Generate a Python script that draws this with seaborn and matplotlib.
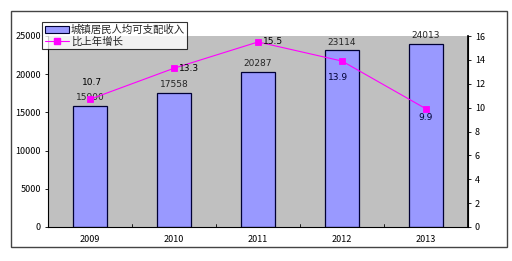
import matplotlib
matplotlib.use("Agg")
import matplotlib.pyplot as plt
import seaborn as sns
import pandas as pd
from matplotlib.lines import Line2D
from matplotlib.patches import Patch

years = ["2009", "2010", "2011", "2012", "2013"]
income = [15900, 17558, 20287, 23114, 24013]
growth = [10.7, 13.3, 15.5, 13.9, 9.9]
bar_label = "城镇居民人均可支配收入"
line_label = "比上年增长"

sns.set_theme(style="white")
plt.rcParams['font.family'] = ['Noto Sans CJK SC', 'DejaVu Sans']

fig = plt.figure(figsize=(5.12, 2.61), dpi=100)
W, H = 512, 261
# outer frame
fig.patches.append(plt.Rectangle((11 / W, 1 - 247 / H), (507 - 11) / W, (247 - 11) / H,
                                 transform=fig.transFigure, fill=False, edgecolor='#444444', lw=1.0))
ax = fig.add_axes([48 / W, 1 - 227 / H, (468 - 48) / W, (227 - 36) / H])
ax.set_facecolor('#C0C0C0')

df = pd.DataFrame({"year": years, "income": income})
sns.barplot(data=df, x="year", y="income", ax=ax, color='#9999FF', width=0.4,
            edgecolor='#000033', linewidth=0.9, saturation=1)
ax.set_ylim(0, 25000)
ax.set_xlim(-0.5, 4.5)
ax.set_yticks(range(0, 25001, 5000))
ax.set_xlabel("")
ax.set_ylabel("")
ax.tick_params(axis='both', labelsize=6.5, colors='black', length=2, width=0.6, pad=3)
ax.tick_params(axis='x', length=0, pad=6)
for x0 in [0.5, 1.5, 2.5, 3.5]:
    ax.plot([x0, x0], [0, 400], color='black', lw=0.6)
for s in ['left', 'bottom', 'right']:
    ax.spines[s].set_color('black')
    ax.spines[s].set_linewidth(0.8)
ax.spines['top'].set_visible(False)
for i, v in enumerate(income):
    ax.text(i, v + 500, str(v), ha='center', va='bottom', fontsize=6.5, family='DejaVu Sans')

ax2 = ax.twinx()
sns.pointplot(x=years, y=growth, ax=ax2, color='#FF00FF', markers='s', markersize=4,
              linewidth=0.8)
ax2.set_ylim(0, 16)
ax2.set_yticks(range(0, 17, 2))
ax2.set_xlim(-0.5, 4.5)
ax2.tick_params(axis='y', labelsize=6.5, length=2, width=0.6, pad=3, right=True, colors='black')
ax2.spines['top'].set_visible(False)
ax2.spines['left'].set_visible(False)
ax2.spines['bottom'].set_visible(False)
ax2.spines['right'].set_color('black')
ax2.set_ylabel("")

offsets = [(0.02, 1.4), (0.06, 0), (0.06, 0), (-0.05, -1.35), (0.0, -0.75)]
for i, v in enumerate(growth):
    dx, dy = offsets[i]
    ha = 'left' if dx > 0.04 else 'center'
    ax2.text(i + dx, v + dy, str(v), ha=ha, va='center', fontsize=6.5, family='DejaVu Sans',
             color='black' if i < 3 else '#000033')

handles = [Patch(facecolor='#9999FF', edgecolor='#000033', lw=0.8, label=bar_label),
           Line2D([0], [0], color='#FF00FF', marker='s', markersize=4, lw=0.8, label=line_label)]
leg = fig.legend(handles=handles, loc='upper left', bbox_to_anchor=(42 / W, 1 - 22 / H),
                 fontsize=7.5, frameon=True, fancybox=False, edgecolor='black',
                 borderpad=0.25, labelspacing=0.15, handlelength=2.3, handletextpad=0.2,
                 borderaxespad=0)
leg.get_frame().set_linewidth(0.8)
leg.set_zorder(10)

fig.savefig("out.png", dpi=100)
